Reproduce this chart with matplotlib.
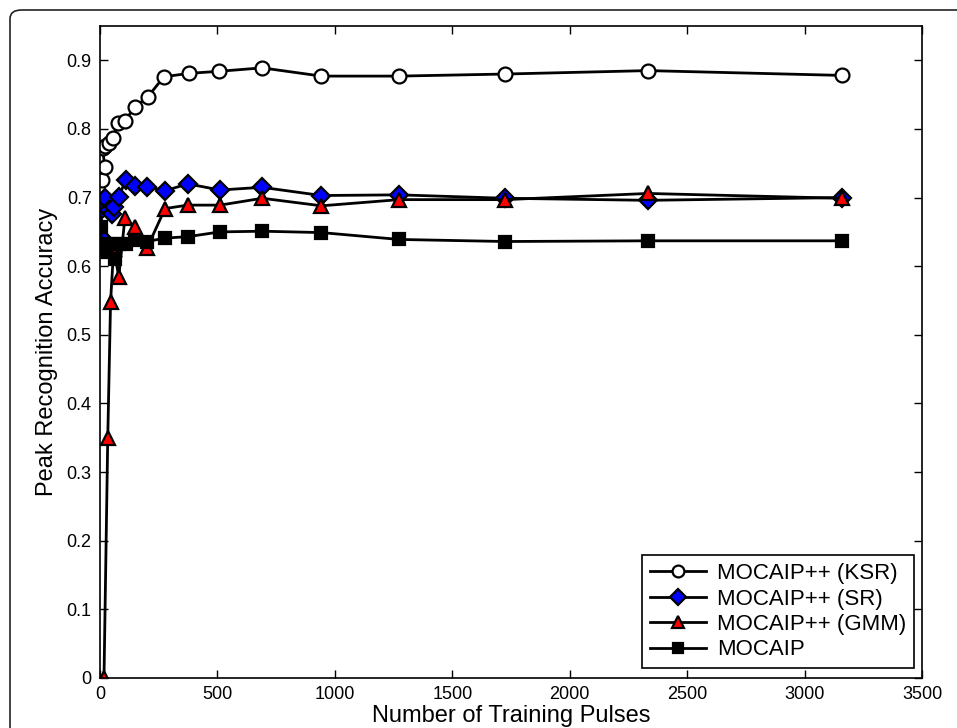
import matplotlib
matplotlib.use("Agg")
import matplotlib.pyplot as plt
from matplotlib.patches import FancyBboxPatch

# ---- data ----
ksr_x = [8, 20, 11, 23, 37, 54, 78, 106, 149, 204, 272, 379, 507, 690, 943, 1273, 1724, 2333, 3159]
ksr_y = [0.725, 0.745, 0.772, 0.775, 0.780, 0.787, 0.808, 0.812, 0.832, 0.847, 0.876, 0.881, 0.884, 0.889, 0.877, 0.877, 0.880, 0.885, 0.878]

sr_x = [3, 8, 23, 37, 50, 58, 80, 110, 150, 200, 277, 374, 511, 689, 943, 1273, 1724, 2333, 3159]
sr_y = [0.642, 0.684, 0.699, 0.682, 0.676, 0.687, 0.701, 0.726, 0.717, 0.716, 0.710, 0.720, 0.711, 0.715, 0.703, 0.704, 0.699, 0.696, 0.700]

gmm_x = [17, 33, 45, 58, 80, 106, 149, 201, 277, 373, 511, 691, 943, 1273, 1724, 2333, 3159]
gmm_y = [0.0, 0.35, 0.548, 0.625, 0.585, 0.670, 0.657, 0.627, 0.684, 0.689, 0.689, 0.699, 0.688, 0.697, 0.697, 0.706, 0.699]

moc_x = [3, 8, 14, 25, 45, 62, 82, 110, 150, 201, 277, 373, 511, 691, 943, 1273, 1724, 2333, 3159]
moc_y = [0.657, 0.620, 0.632, 0.628, 0.632, 0.610, 0.632, 0.633, 0.638, 0.636, 0.641, 0.643, 0.650, 0.651, 0.649, 0.639, 0.636, 0.637, 0.637]

labels = ["MOCAIP++ (KSR)", "MOCAIP++ (SR)", "MOCAIP++ (GMM)", "MOCAIP"]
x_ticks = [0, 500, 1000, 1500, 2000, 2500, 3000, 3500]
y_ticks = [0, 0.1, 0.2, 0.3, 0.4, 0.5, 0.6, 0.7, 0.8, 0.9]
y_ticklabels = ["0", "0.1", "0.2", "0.3", "0.4", "0.5", "0.6", "0.7", "0.8", "0.9"]

plt.rcParams['font.family'] = ['Liberation Sans', 'DejaVu Sans']

fig = plt.figure(figsize=(9.57, 7.28), dpi=100)

# rounded figure frame (top and left edges visible)
frame = FancyBboxPatch((10 / 957, -0.2), 1.2, (728 - 10) / 728 + 0.2,
                       boxstyle="round,pad=0,rounding_size=0.012",
                       transform=fig.transFigure, fill=False,
                       edgecolor="#222222", linewidth=1.2)
fig.patches.append(frame)

ax = fig.add_axes([100 / 957, 50 / 728, 822 / 957, 652 / 728])

lw = 2.0
mew = 1.6
ax.plot(ksr_x, ksr_y, '-o', color='black', lw=lw, ms=10, mfc='white', mec='black', mew=mew, label=labels[0])
ax.plot(sr_x, sr_y, '-D', color='black', lw=lw, ms=9, mfc='#0000ff', mec='black', mew=mew, label=labels[1])
ax.plot(gmm_x, gmm_y, '-^', color='black', lw=lw, ms=10, mfc='#ff0000', mec='black', mew=mew, label=labels[2])
ax.plot(moc_x, moc_y, '-s', color='black', lw=lw, ms=9, mfc='black', mec='black', mew=mew, label=labels[3])

ax.set_xlim(0, 3500)
ax.set_ylim(0, 0.95)
ax.set_xticks(x_ticks)
ax.set_yticks(y_ticks)
ax.set_yticklabels(y_ticklabels)
ax.tick_params(direction='in', length=6, width=1, top=True, right=True, labelsize=13)
ax.tick_params(axis='x', pad=6)
ax.tick_params(axis='y', pad=6)
for s in ax.spines.values():
    s.set_linewidth(1.2)

ax.set_xlabel("Number of Training Pulses", fontsize=17, labelpad=1)
ax.set_ylabel("Peak Recognition Accuracy", fontsize=17, labelpad=6)

leg = ax.legend(loc='lower right', bbox_to_anchor=(0.990, 0.015), borderaxespad=0,
                fontsize=16, fancybox=False, edgecolor='black', framealpha=1,
                handlelength=2.5, labelspacing=0.2, borderpad=0.35, handletextpad=0.5,
                markerscale=0.85)
leg.get_frame().set_linewidth(1.2)

fig.savefig("out.png", dpi=100)
